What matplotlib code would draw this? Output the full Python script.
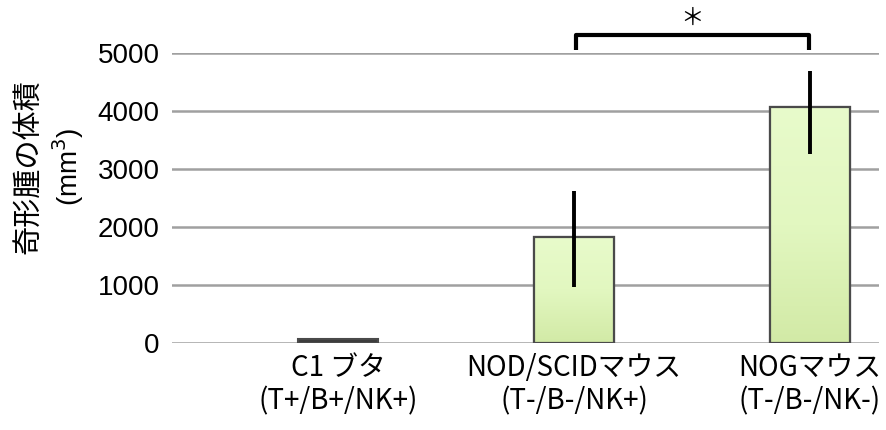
import matplotlib
matplotlib.use("Agg")
import matplotlib.pyplot as plt
import numpy as np
from matplotlib.colors import LinearSegmentedColormap

categories = ["C1 ブタ\n(T+/B+/NK+)", "NOD/SCIDマウス\n(T-/B-/NK+)", "NOGマウス\n(T-/B-/NK-)"]
values = [70, 1830, 4065]
err_lower = [0, 860, 810]
err_upper = [0, 790, 630]
yticks = [0, 1000, 2000, 3000, 4000, 5000]
ylabel_line1 = "奇形腫の体積"
ylabel_line2 = "(mm$^3$)"
sig_label = "＊"

fig = plt.figure(figsize=(8.87, 4.30), dpi=100)
ax = fig.add_axes([172/887, 1-343/430, (879-172)/887, (343-53)/430])

x = np.arange(len(categories))
bar_colors = ["#3c3c3c", "#ddf3b8", "#ddf3b8"]
bars = ax.bar(x, values, width=80/236, color=bar_colors, edgecolor="#4a4a4a",
              linewidth=1.5, zorder=3)

cmap = LinearSegmentedColormap.from_list("g", ["#d2eaa6", "#e2f7c0", "#e8fbcb"])
for i, b in enumerate(bars):
    if i == 0:
        continue
    x0, w, h = b.get_x(), b.get_width(), b.get_height()
    grad = np.linspace(0, 1, 256).reshape(-1, 1)
    im = ax.imshow(grad, extent=[x0, x0 + w, 0, h], origin="lower", aspect="auto",
                   cmap=cmap, zorder=3.5)
    im.set_clip_path(b)
    ax.bar(x0 + w/2, h, width=w, fill=False, edgecolor="#4a4a4a", linewidth=1.6, zorder=4)

ax.errorbar(x[1:], values[1:], yerr=[err_lower[1:], err_upper[1:]], fmt="none",
            ecolor="black", elinewidth=2.8, capsize=0, zorder=5)

ax.set_xlim((172-338)/236, (879-338)/236)
ax.set_ylim(0, 5000)
ax.set_yticks(yticks)
ax.set_yticklabels([str(t) for t in yticks], fontsize=20, family="Liberation Sans")
ax.yaxis.grid(True, color="#a0a0a0", linewidth=1.8, zorder=0)
ax.set_axisbelow(True)
for s in ax.spines.values():
    s.set_visible(False)
ax.tick_params(axis="y", length=0, pad=9)
ax.set_xticks(x)
ax.set_xticklabels(categories, fontsize=20, family=["Noto Sans CJK JP", "DejaVu Sans"],
                   linespacing=1.15)
ax.tick_params(axis="x", length=0, pad=7)

# significance bracket
bx = [1.008, 1.008, 1.996, 1.996]
by = [5052, 5310, 5310, 5052]
ax.plot(bx, by, color="black", linewidth=3, clip_on=False, solid_joinstyle="round",
        solid_capstyle="butt", zorder=6)
ax.text(1.502, 5600, sig_label, ha="center", va="center", fontsize=17,
        family=["Noto Sans CJK JP", "DejaVu Sans"], clip_on=False)

fig.text(28/887, 1-167/430, ylabel_line1, rotation=90, ha="center", va="center",
         fontsize=21, family=["Noto Sans CJK JP", "DejaVu Sans"])
fig.text(68/887, 1-167/430, ylabel_line2, rotation=90, ha="center", va="center",
         fontsize=20, family=["Liberation Sans", "DejaVu Sans"])

fig.savefig("out.png", dpi=100)
